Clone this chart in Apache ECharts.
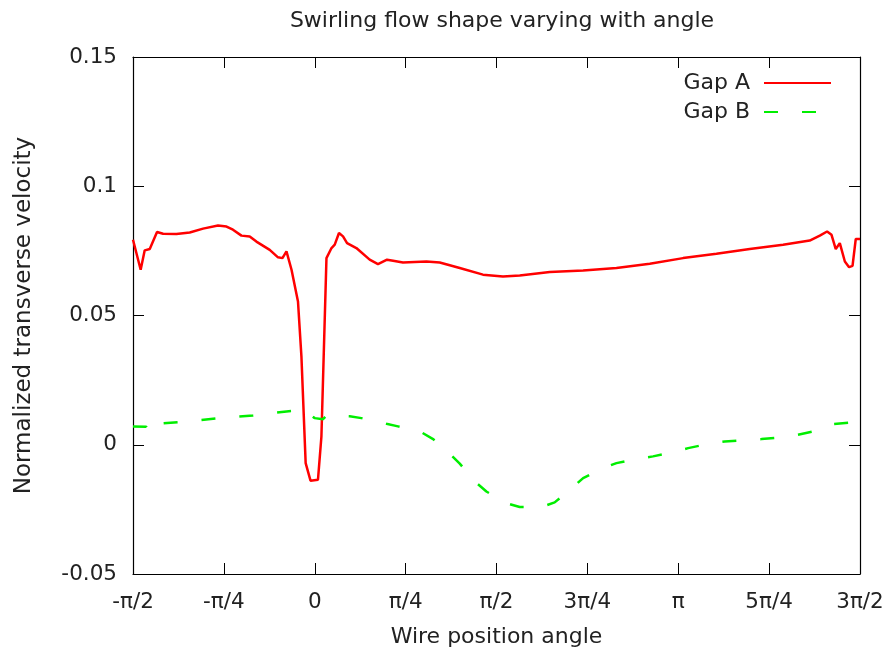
<!DOCTYPE html>
<html>
<head>
<meta charset="utf-8">
<script src="https://cdn.jsdelivr.net/npm/echarts@6/dist/echarts.min.js"></script>
<style>
  html, body { margin: 0; padding: 0; background: #fff; }
  #chart { width: 888px; height: 658px; }
</style>
</head>
<body>
<div id="chart"></div>
<script>
// wire position angle in degrees (-90 .. 270), labelled in multiples of pi
var angleA = [-90, -86.2, -84.2, -81.7, -78.1, -75.1, -68.5, -61.9, -55.3, -47.9, -43.7, -40.5,
  -36.3, -32.2, -28.9, -22.3, -18.2, -16.0, -14.0, -11.5, -8.3, -6.6, -4.5, -2.1, 1.6, 3.3,
  5.8, 8.3, 9.9, 12.0, 14.0, 16.0, 20.6, 27.2, 31.3, 35.8, 38.8, 43.7, 55.3, 61.9, 71.8,
  83.3, 93.2, 101.5, 116.4, 132.9, 149.4, 165.9, 182.4, 198.9, 215.4, 231.9, 245.1, 250.1,
  253.7, 255.9, 258.0, 260.0, 262.5, 264.6, 266.3, 267.9, 270];
var gapA = [0.0793, 0.0677, 0.0752, 0.0757, 0.0823, 0.0816, 0.0815, 0.0821, 0.0836, 0.0848, 0.0844, 0.0832,
  0.0809, 0.0806, 0.0786, 0.0754, 0.0725, 0.0722, 0.0748, 0.0677, 0.0554, 0.0342, -0.0071, -0.0139, -0.0135, 0.0032,
  0.0722, 0.0761, 0.0774, 0.0819, 0.0806, 0.0780, 0.0761, 0.0716, 0.0699, 0.0716, 0.0712, 0.0705, 0.0709, 0.0705, 0.0684,
  0.0658, 0.0651, 0.0655, 0.0668, 0.0674, 0.0684, 0.0700, 0.0722, 0.0739, 0.0757, 0.0774, 0.0790, 0.0809,
  0.0825, 0.0812, 0.0757, 0.0780, 0.0709, 0.0687, 0.0692, 0.0796, 0.0796];

var angleB = [-90, -83.5, -82.1, -80.7, -63.5, -47.0, -30.6, -14.0, -5.8, 0, 4.1, 5.8, 17.3, 23.1,
  35.5, 41.2, 52.0, 58.6, 66.9, 71.8, 79.2, 85.0, 94.9, 101.5, 112.3, 118.8, 127.9, 132.9,
  142.8, 149.4, 160.9, 167.5, 179.1, 184.9, 197.2, 203.0, 215.4, 221.2, 233.6, 239.3, 250.9,
  256.7, 265.0, 265.8, 268.3, 270];
var gapB = [0.0071, 0.0070, 0.0052, 0.0079, 0.0090, 0.0103, 0.0113, 0.0129, 0.0135, 0.0103, 0.0099, 0.0113, 0.0110, 0.0103,
  0.0081, 0.0071, 0.0052, 0.0022, -0.0035, -0.0073, -0.0142, -0.0181, -0.0226, -0.0241, -0.0241, -0.0223, -0.0164, -0.0129,
  -0.0090, -0.0071, -0.0053, -0.0045, -0.0026, -0.0013, 0.0007, 0.0013, 0.0019, 0.0022, 0.0030, 0.0039, 0.0058,
  0.0080, 0.0086, 0.0065, 0.0062, 0.0071];

var xTickLabels = {'-90': '-π/2', '-45': '-π/4', '0': '0', '45': 'π/4', '90': 'π/2',
  '135': '3π/4', '180': 'π', '225': '5π/4', '270': '3π/2'};

function zip(xs, ys) {
  return xs.map(function (x, i) { return [x, ys[i]]; });
}

var font = 'DejaVu Sans';
var textColor = '#222';
var chart = echarts.init(document.getElementById('chart'));

var tickStyle = { show: true, inside: true, length: 11, lineStyle: { color: '#000', width: 1 } };
var lineStyleAxis = { show: true, onZero: false, lineStyle: { color: '#000', width: 1.2 } };

chart.setOption({
  animation: false,
  textStyle: { fontFamily: font },
  title: {
    text: 'Swirling flow shape varying with angle',
    left: 497, top: 5, textAlign: 'center',
    textStyle: { fontFamily: font, fontSize: 22, fontWeight: 'normal', color: textColor }
  },
  legend: {
    orient: 'vertical',
    right: 51, top: 67,
    align: 'right',
    itemWidth: 67, itemHeight: 20, itemGap: 7,
    itemStyle: { opacity: 0 },
    textStyle: { fontFamily: font, fontSize: 22, color: textColor, padding: [0, 9, 0, 0] },
    data: ['Gap A', 'Gap B']
  },
  grid: { left: 133, right: 28, top: 57, bottom: 84, containLabel: false },
  xAxis: [{
    type: 'value', min: -90, max: 270, interval: 45,
    name: 'Wire position angle', nameLocation: 'middle', nameGap: 52,
    nameTextStyle: { fontFamily: font, fontSize: 22, color: textColor },
    axisLine: lineStyleAxis, axisTick: tickStyle,
    axisLabel: { margin: 17, fontFamily: font, fontSize: 21.5, color: textColor,
      formatter: function (v) { return xTickLabels[String(Math.round(v))] || ''; } },
    splitLine: { show: false }
  }, {
    type: 'value', position: 'top', min: -90, max: 270, interval: 45,
    axisLine: lineStyleAxis, axisTick: tickStyle,
    axisLabel: { show: false }, splitLine: { show: false }
  }],
  yAxis: [{
    type: 'value', min: -0.05, max: 0.15, interval: 0.05,
    name: 'Normalized transverse velocity', nameLocation: 'middle', nameGap: 97,
    nameTextStyle: { fontFamily: font, fontSize: 23, color: textColor },
    axisLine: lineStyleAxis, axisTick: tickStyle,
    axisLabel: { margin: 16, fontFamily: font, fontSize: 21.5, color: textColor },
    splitLine: { show: false }
  }, {
    type: 'value', position: 'right', min: -0.05, max: 0.15, interval: 0.05,
    axisLine: lineStyleAxis, axisTick: tickStyle,
    axisLabel: { show: false }, splitLine: { show: false }
  }],
  series: [{
    name: 'Gap A', type: 'line', xAxisIndex: 0, yAxisIndex: 0,
    showSymbol: false, symbol: 'none',
    itemStyle: { color: '#ff0000' },
    lineStyle: { color: '#ff0000', width: 2.5 },
    data: zip(angleA, gapA)
  }, {
    name: 'Gap B', type: 'line', xAxisIndex: 0, yAxisIndex: 0,
    showSymbol: false, symbol: 'none',
    itemStyle: { color: '#00ee00' },
    lineStyle: { color: '#00ee00', width: 2.5, type: [14, 24] },
    data: zip(angleB, gapB)
  }]
});
</script>
</body>
</html>
